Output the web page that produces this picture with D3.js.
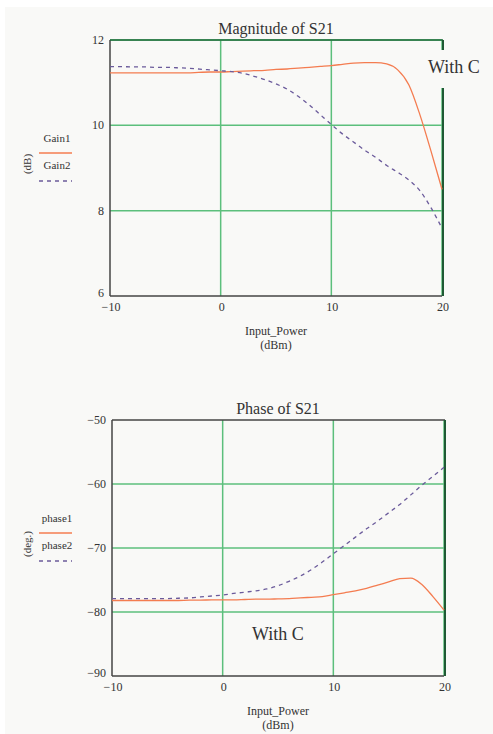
<!DOCTYPE html>
<html><head><meta charset="utf-8">
<script src="https://cdn.jsdelivr.net/npm/d3@7"></script>
<style>
html,body{margin:0;padding:0;background:#fff;}
svg{display:block;}
text{font-family:"Liberation Serif","Times New Roman",serif;fill:#333;}
</style></head>
<body>
<svg id="c" width="493" height="734"></svg>
<script>
const inputPower = [-10,-9,-8,-7,-6,-5,-4,-3,-2,-1,0,1,2,3,4,5,6,7,8,9,10,11,12,13,14,15,16,17,18,19,20];
const gain1 = [11.23,11.23,11.23,11.23,11.23,11.23,11.23,11.23,11.24,11.25,11.25,11.26,11.27,11.28,11.29,11.31,11.32,11.34,11.36,11.38,11.40,11.43,11.46,11.47,11.47,11.44,11.3,10.95,10.25,9.4,8.5];
const gain2 = [11.375,11.375,11.37,11.37,11.36,11.36,11.35,11.34,11.32,11.30,11.28,11.26,11.22,11.15,11.07,10.97,10.85,10.68,10.48,10.25,10.02,9.80,9.61,9.42,9.25,9.06,8.90,8.72,8.47,8.07,7.59];
const phase1 = [-78.2,-78.2,-78.2,-78.2,-78.2,-78.2,-78.2,-78.15,-78.15,-78.1,-78.1,-78.1,-78.05,-78.0,-78.0,-77.95,-77.9,-77.8,-77.7,-77.6,-77.3,-77.0,-76.7,-76.3,-75.8,-75.3,-74.8,-74.7,-75.7,-77.6,-79.7];
const phase2 = [-77.9,-77.9,-77.9,-77.9,-77.9,-77.9,-77.85,-77.8,-77.65,-77.5,-77.35,-77.1,-76.9,-76.7,-76.4,-75.9,-75.2,-74.4,-73.4,-72.2,-70.9,-69.6,-68.3,-67.0,-65.8,-64.5,-63.2,-61.7,-60.2,-58.8,-57.4];
const xTicks = [-10,0,10,20];
const magTicks = [6,8,10,12];
const phaseTicks = [-90,-80,-70,-60,-50];

const svg = d3.select("#c");
const BG = "#f9f9f7", ORANGE = "#f47c50", PURPLE = "#6b5b9b", GREEN = "#5cbf7c", BORDER = "#444";
svg.append("rect").attr("x",5).attr("y",7).attr("width",488).attr("height",727).attr("fill",BG);

function panel(cfg){
  const x = d3.scaleLinear().domain([-10,20]).range([cfg.left,cfg.right]);
  const y = d3.scaleLinear().domain(cfg.yDomain).range([cfg.bottom,cfg.top]);
  const g = svg.append("g");
  g.selectAll(".gx").data(xTicks.filter(d=>d>-10)).join("line")
    .attr("x1",d=>x(d)).attr("x2",d=>x(d)).attr("y1",cfg.top).attr("y2",cfg.bottom)
    .attr("stroke",GREEN).attr("stroke-width",1.5);
  g.selectAll(".gy").data(cfg.gridY).join("line")
    .attr("x1",cfg.left).attr("x2",cfg.right).attr("y1",d=>y(d)).attr("y2",d=>y(d))
    .attr("stroke",GREEN).attr("stroke-width",1.5);
  g.append("line").attr("x1",cfg.left).attr("x2",cfg.left).attr("y1",cfg.top).attr("y2",cfg.bottom).attr("stroke",BORDER).attr("stroke-width",1.5);
  g.append("line").attr("x1",cfg.left).attr("x2",cfg.right).attr("y1",cfg.bottom).attr("y2",cfg.bottom).attr("stroke",BORDER).attr("stroke-width",1.5);
  g.append("line").attr("x1",cfg.left).attr("x2",cfg.right+1).attr("y1",cfg.top).attr("y2",cfg.top).attr("stroke",cfg.topColor).attr("stroke-width",1.5);
  g.append("line").attr("x1",cfg.right+1).attr("x2",cfg.right+1).attr("y1",cfg.top).attr("y2",cfg.bottom).attr("stroke","#1f5a34").attr("stroke-width",2);
  const line = d3.line().x((d,i)=>x(inputPower[i])).y(d=>y(d)).curve(d3.curveMonotoneX);
  g.append("path").attr("d",line(cfg.s1)).attr("fill","none").attr("stroke",ORANGE).attr("stroke-width",1.3);
  g.append("path").attr("d",line(cfg.s2)).attr("fill","none").attr("stroke",PURPLE).attr("stroke-width",1.3).attr("stroke-dasharray","4,4");
  const ymin = cfg.yDomain[0];
  g.selectAll(".yl").data(cfg.yTicks).join("text")
    .attr("x",cfg.left-6).attr("y",d=>y(d)+(d===ymin?1:4)).attr("text-anchor","end").attr("font-size",12)
    .text(d=>d<0?"\u2212"+Math.abs(d):d);
  g.selectAll(".xl").data(xTicks).join("text")
    .attr("x",d=>x(d)+1).attr("y",cfg.bottom+15).attr("text-anchor","middle").attr("font-size",12)
    .text(d=>d<0?"\u2212"+Math.abs(d):d);
  g.append("text").attr("x",(cfg.left+cfg.right)/2).attr("y",cfg.top-6).attr("text-anchor","middle").attr("font-size",16).text(cfg.title);
  g.append("text").attr("x",(cfg.left+cfg.right)/2).attr("y",cfg.bottom+39).attr("text-anchor","middle").attr("font-size",12).text("Input_Power");
  g.append("text").attr("x",(cfg.left+cfg.right)/2).attr("y",cfg.bottom+53).attr("text-anchor","middle").attr("font-size",12).text("(dBm)");
  const ly = cfg.legendY;
  g.append("text").attr("x",57).attr("y",ly).attr("text-anchor","middle").attr("font-size",11).text(cfg.names[0]);
  g.append("line").attr("x1",39).attr("x2",72).attr("y1",ly+11).attr("y2",ly+11).attr("stroke",ORANGE).attr("stroke-width",1.4);
  g.append("text").attr("x",57).attr("y",ly+27).attr("text-anchor","middle").attr("font-size",11).text(cfg.names[1]);
  g.append("line").attr("x1",39).attr("x2",72).attr("y1",ly+39).attr("y2",ly+39).attr("stroke",PURPLE).attr("stroke-width",1.4).attr("stroke-dasharray","4,4");
  g.append("text").attr("transform",`translate(31,${ly+22}) rotate(-90)`).attr("text-anchor","middle").attr("font-size",11).text(cfg.unit);
  if(cfg.boxed){
    g.append("rect").attr("x",cfg.annX-4).attr("y",cfg.annY-23).attr("width",62).attr("height",38).attr("fill",BG);
  }
  g.append("text").attr("x",cfg.annX).attr("y",cfg.annY).attr("font-size",18).text("With C");
}

panel({left:110,right:442,top:40,bottom:296,yDomain:[6,12],gridY:[8,10,12],yTicks:magTicks,
  s1:gain1,s2:gain2,title:"Magnitude of S21",names:["Gain1","Gain2"],unit:"(dB)",legendY:142,
  topColor:"#1f6a3a",boxed:true,annX:428,annY:73});
panel({left:112,right:444,top:420,bottom:676,yDomain:[-90,-50],gridY:[-80,-70,-60],yTicks:phaseTicks,
  s1:phase1,s2:phase2,title:"Phase of S21",names:["phase1","phase2"],unit:"(deg.)",legendY:522,
  topColor:BORDER,boxed:false,annX:252,annY:640});
</script>
</body></html>
